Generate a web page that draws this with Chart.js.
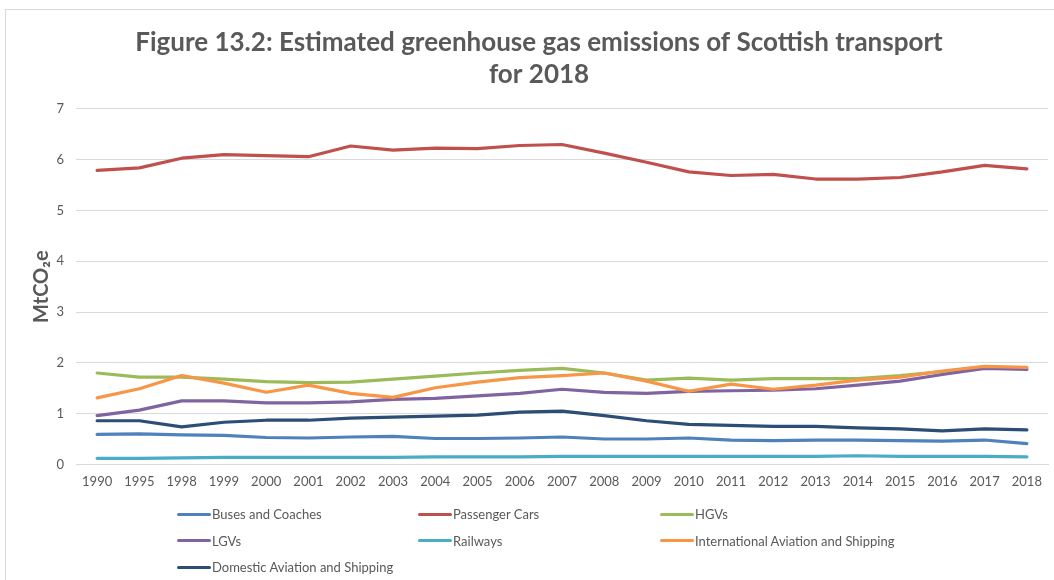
<!DOCTYPE html>
<html><head><meta charset="utf-8">
<script src="https://cdn.jsdelivr.net/npm/chart.js@4/dist/chart.umd.min.js"></script>
<style>
html,body{margin:0;padding:0;background:#fff;}
#wrap{position:relative;width:1054px;height:580px;overflow:hidden;background:#fff;}
#frame{position:absolute;left:5px;top:9px;width:1100px;height:620px;border:1px solid #d9d9d9;box-sizing:border-box;}
#c{position:absolute;left:0;top:0;}
#legend{position:absolute;left:177px;top:501px;display:grid;grid-template-columns:241px 242px 300px;font-family:Lato,sans-serif;font-size:13px;color:#595959;}
.li{display:flex;align-items:center;height:26.5px;white-space:nowrap;}
.sw{display:inline-block;width:34px;height:3px;border-radius:2px;margin-right:1px;}
</style>
</head><body>
<div id="wrap">
<div id="frame"></div>
<canvas id="c" width="1054" height="580"></canvas>
<div id="legend"></div>
</div>
<script>
const years = ['1990','1995','1998','1999','2000','2001','2002','2003','2004','2005','2006','2007','2008','2009','2010','2011','2012','2013','2014','2015','2016','2017','2018'];
const buses    = [0.59,0.60,0.58,0.57,0.53,0.52,0.54,0.55,0.51,0.51,0.52,0.54,0.50,0.50,0.52,0.48,0.47,0.48,0.48,0.47,0.46,0.48,0.41];
const cars     = [5.79,5.84,6.03,6.10,6.08,6.06,6.27,6.19,6.23,6.22,6.28,6.30,6.13,5.95,5.76,5.69,5.71,5.62,5.62,5.65,5.76,5.89,5.82];
const hgvs     = [1.80,1.72,1.72,1.68,1.63,1.61,1.62,1.68,1.74,1.80,1.85,1.89,1.80,1.66,1.70,1.66,1.69,1.69,1.69,1.75,1.83,1.92,1.89];
const lgvs     = [0.96,1.07,1.25,1.25,1.21,1.21,1.23,1.28,1.30,1.35,1.40,1.48,1.42,1.40,1.44,1.45,1.46,1.49,1.56,1.64,1.77,1.89,1.87];
const railways = [0.12,0.12,0.13,0.14,0.14,0.14,0.14,0.14,0.15,0.15,0.15,0.16,0.16,0.16,0.16,0.16,0.16,0.16,0.17,0.16,0.16,0.16,0.15];
const intlAviation = [1.31,1.49,1.75,1.60,1.42,1.56,1.40,1.32,1.51,1.62,1.71,1.75,1.80,1.64,1.44,1.58,1.48,1.56,1.66,1.72,1.84,1.93,1.91];
const domAviation  = [0.86,0.86,0.74,0.83,0.87,0.87,0.91,0.93,0.95,0.97,1.03,1.05,0.96,0.86,0.79,0.77,0.75,0.75,0.72,0.70,0.66,0.70,0.68];
const seriesNames = ['Buses and Coaches','Passenger Cars','HGVs','LGVs','Railways','International Aviation and Shipping','Domestic Aviation and Shipping'];
const seriesColors = ['#4F81BD','#C0504D','#9BBB59','#8064A2','#4BACC6','#F79646','#2C4D75'];
const titleLines = ['Figure 13.2: Estimated greenhouse gas emissions of Scottish transport','for 2018'];
const yTitle = 'MtCO\u2082e';

const seriesData = [buses,cars,hgvs,lgvs,railways,intlAviation,domAviation];
const FONT = 'Lato, sans-serif';
const TXT = '#595959';

const datasets = seriesData.map((d,i)=>({
  label: seriesNames[i],
  data: d,
  borderColor: seriesColors[i],
  backgroundColor: seriesColors[i],
  borderWidth: 3.2,
  pointRadius: 0,
  pointHoverRadius: 0,
  tension: 0,
  fill: false,
  borderCapStyle: 'round',
  borderJoinStyle: 'round',
  order: seriesData.length - i
}));

const chart = new Chart(document.getElementById('c'), {
  type: 'line',
  data: { labels: years, datasets },
  options: {
    responsive: false,
    animation: false,
    events: [],
    layout: { padding: { top: 27, left: 30, right: 6, bottom: 88 } },
    plugins: {
      legend: { display: false },
      tooltip: { enabled: false },
      title: {
        display: true,
        text: titleLines,
        color: TXT,
        font: { family: FONT, size: 26, weight: 'bold', lineHeight: 1.23 },
        padding: { top: 0, bottom: 18 }
      }
    },
    scales: {
      x: {
        offset: true,
        grid: { display: false },
        border: { display: true, color: '#d9d9d9', width: 1 },
        ticks: { color: TXT, font: { family: FONT, size: 13 }, maxRotation: 0, autoSkip: false, padding: 2 }
      },
      y: {
        min: 0, max: 7,
        grid: { color: '#d9d9d9', lineWidth: 1, drawTicks: false },
        border: { display: false },
        ticks: { stepSize: 1, color: TXT, font: { family: FONT, size: 13 }, padding: 12 },
        title: { display: true, text: yTitle, color: TXT, font: { family: FONT, size: 20, weight: 'bold' }, padding: 0 },
        afterFit: (s) => { s.width = 46; }
      }
    }
  }
});

const lg = document.getElementById('legend');
chart.data.datasets.forEach(ds => {
  const it = document.createElement('div');
  it.className = 'li';
  const sw = document.createElement('span');
  sw.className = 'sw';
  sw.style.background = ds.borderColor;
  it.appendChild(sw);
  it.appendChild(document.createTextNode(ds.label));
  lg.appendChild(it);
});
</script>
</body></html>
